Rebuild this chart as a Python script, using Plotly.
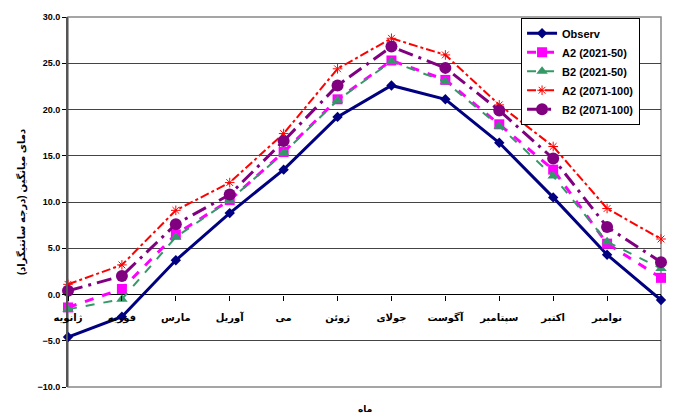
import plotly.graph_objects as go

# Monthly mean temperature (°C): observed and scenario projections
months = ["ژانویه", "فوریه", "مارس", "آوریل", "می", "ژوئن",
          "جولای", "آگوست", "سپتامبر", "اکتبر", "نوامبر", "دسامبر"]

observ = [-4.6, -2.4, 3.7, 8.8, 13.5, 19.2, 22.6, 21.1, 16.4, 10.5, 4.3, -0.6]
a2_2021_50 = [-1.4, 0.6, 6.5, 10.2, 15.4, 21.1, 25.3, 23.2, 18.4, 13.5, 5.5, 1.8]
b2_2021_50 = [-1.6, -0.5, 6.2, 10.2, 15.3, 21.0, 25.2, 23.0, 18.2, 12.8, 5.7, 2.8]
a2_2071_100 = [1.1, 3.2, 9.1, 12.1, 17.4, 24.4, 27.7, 25.9, 20.5, 16.0, 9.3, 6.0]
b2_2071_100 = [0.4, 2.0, 7.6, 10.8, 16.6, 22.6, 26.8, 24.5, 19.9, 14.7, 7.3, 3.5]

y_ticks = [-10, -5, 0, 5, 10, 15, 20, 25, 30]

FONT = "Liberation Sans, Arial, DejaVu Sans, sans-serif"
x_idx = list(range(len(months)))

series = [
    ("Observ", observ, dict(color="#000080", width=3, dash="solid"),
     dict(symbol="diamond", size=8, color="#000080")),
    ("A2 (2021-50)", a2_2021_50, dict(color="#FF00FF", width=3, dash="dash"),
     dict(symbol="square", size=10, color="#FF00FF")),
    ("B2 (2021-50)", b2_2021_50, dict(color="#339966", width=2, dash="dash"),
     dict(symbol="triangle-up", size=10, color="#339966")),
    ("A2 (2071-100)", a2_2071_100, dict(color="#FF0000", width=2, dash="dashdot"),
     dict(symbol="asterisk-open", size=8, color="#FF0000", line=dict(color="#FF0000", width=1))),
    ("B2 (2071-100)", b2_2071_100, dict(color="#800080", width=3, dash="longdashdot"),
     dict(symbol="circle", size=12, color="#800080")),
]

fig = go.Figure()
for name, vals, line, marker in series:
    fig.add_trace(go.Scatter(
        x=x_idx, y=vals, name=name, mode="lines+markers",
        line=line, marker=marker, cliponaxis=False,
    ))

fig.update_layout(
    width=675, height=418,
    margin=dict(l=68, r=14, t=15, b=31),
    paper_bgcolor="white", plot_bgcolor="white",
    font=dict(family=FONT, color="black"),
    showlegend=True,
    legend=dict(
        x=0.764, y=0.998, xanchor="left", yanchor="top",
        bgcolor="white", bordercolor="black", borderwidth=1,
        font=dict(family=FONT, size=11, color="black", weight="bold"),
        tracegroupgap=0, itemwidth=30,
    ),
    xaxis=dict(
        range=[0, 11], tickmode="array", tickvals=x_idx, ticktext=months,
        anchor="free", position=0.25,
        showgrid=False, zeroline=False, showline=False,
        ticks="outside", ticklen=5, tickcolor="black",
        ticklabelstandoff=8,
        tickfont=dict(family=FONT, size=10, color="black", weight="bold"),
    ),
    yaxis=dict(
        range=[-10, 30], tickmode="array", tickvals=y_ticks,
        tickformat=".1f",
        showgrid=True, gridcolor="#444444", gridwidth=1,
        zeroline=True, zerolinecolor="black", zerolinewidth=1,
        showline=True, linecolor="#555555", linewidth=2,
        ticks="outside", ticklen=4, tickcolor="black",
        tickfont=dict(family=FONT, size=9, color="black", weight="bold"),
        title=dict(text="دمای میانگین (درجه سانتیگراد)", standoff=10,
                   font=dict(family=FONT, size=10, color="black", weight="bold")),
    ),
)

# plot-area frame
fig.add_shape(type="rect", xref="x domain", yref="y domain",
              x0=0, x1=1, y0=0, y1=1,
              line=dict(color="#888888", width=1.5), layer="below")

# category axis title
fig.add_annotation(text="ماه", xref="paper", yref="paper",
                   x=0.5, y=-0.06, yanchor="middle", showarrow=False,
                   font=dict(family=FONT, size=9, color="black", weight="bold"))

fig.write_html("out.html")
